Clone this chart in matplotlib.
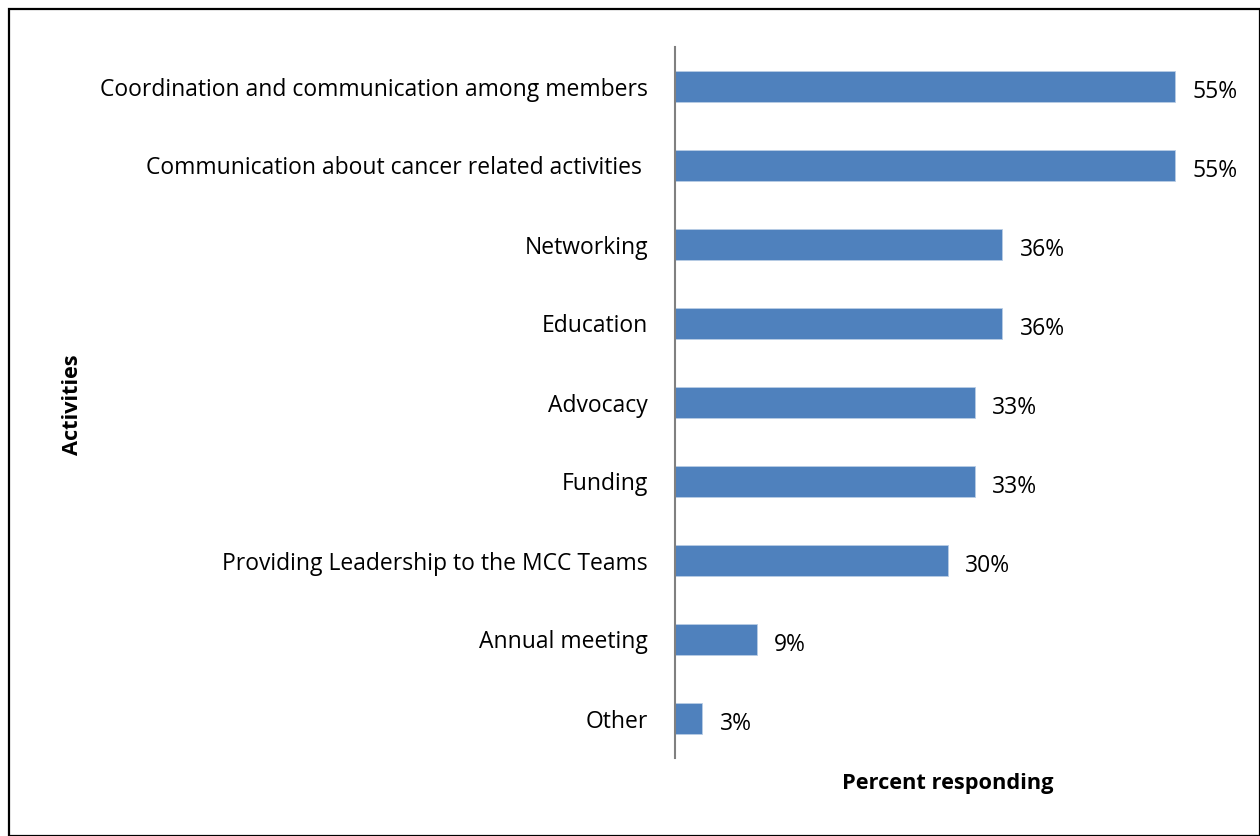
import matplotlib.pyplot as plt
from matplotlib.patches import Rectangle

# Survey results: share of respondents naming each activity
activities = [
    "Coordination and communication among members",
    "Communication about cancer related activities ",
    "Networking",
    "Education",
    "Advocacy",
    "Funding",
    "Providing Leadership to the MCC Teams",
    "Annual meeting",
    "Other",
]
percent = [55, 55, 36, 36, 33, 33, 30, 9, 3]

BAR_COLOR = "#4F81BD"
FONT = "Open Sans"
FS = 16.5
FS_TITLE = 15.7

fig = plt.figure(figsize=(12.6, 8.36), dpi=100)
W, H = 1260, 836

# axes placed in pixel terms: left edge is the vertical axis line
ax = fig.add_axes([675 / W, 1 - 758 / H, (1240 - 675) / W, (758 - 47) / H])

ypos = list(range(len(activities)))
bars = ax.barh(ypos, percent, height=0.38, color=BAR_COLOR, edgecolor="#B9CDE5", linewidth=0.6)

for b, v in zip(bars, percent):
    ax.text(b.get_width() + 1.9, b.get_y() + b.get_height() / 2 + 0.03, f"{v}%",
            va="center_baseline", ha="left", fontsize=FS, family=FONT, color="black")

ax.set_ylim(len(activities) - 0.5, -0.5)
ax.set_xlim(0, 565 / 9.09)

ax.set_yticks(ypos)
ax.set_yticklabels(activities, fontsize=FS, family=FONT)
ax.tick_params(axis="y", length=0, pad=19.5)
ax.set_xticks([])

for s in ["top", "right", "bottom"]:
    ax.spines[s].set_visible(False)
ax.spines["left"].set_color("#808080")
ax.spines["left"].set_linewidth(1.5)

fig.text(73 / W, 1 - 405 / H, "Activities", rotation=90, ha="center", va="center",
         fontsize=FS_TITLE, fontweight="bold", family=FONT)
fig.text(948 / W, 1 - 784 / H, "Percent responding", ha="center", va="center",
         fontsize=FS_TITLE, fontweight="bold", family=FONT)

# outer frame around the whole chart
fig.patches.append(Rectangle((9 / W, 0), 1 - 9 / W, 1 - 9 / H, transform=fig.transFigure,
                             fill=False, edgecolor="black", linewidth=1.6))

fig.savefig("out.png", dpi=100)
